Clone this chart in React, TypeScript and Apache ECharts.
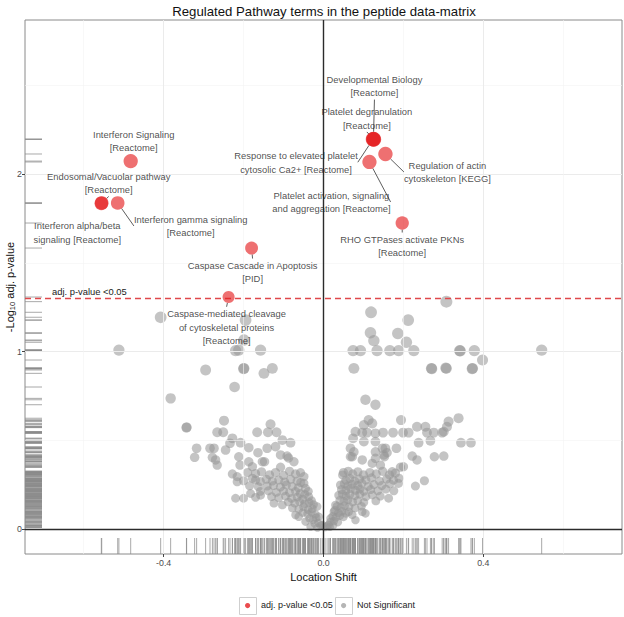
import React, { useEffect, useRef } from "react";
import * as echarts from "echarts";

const TITLE = "Regulated Pathway terms in the peptide data-matrix";
const X_NAME = "Location Shift";
const Y_NAME = "{a|-Log}{s|10}{a| adj. p-value}";
const X_TICKS = [-0.4, 0, 0.4];
const Y_TICKS = [0, 1, 2];
const X_MINOR = [-0.6, -0.2, 0.2, 0.6];
const Y_MINOR = [0.5, 1.5, 2.5];
const THRESHOLD = 1.30103;
const THRESHOLD_LABEL = "adj. p-value <0.05";
const LEGEND_SIG = "adj. p-value <0.05";
const LEGEND_NS = "Not Significant";
const X_MIN = -0.747;
const X_MAX = 0.747;
const Y_MIN = -0.141;
const Y_MAX = 2.868;

// significant pathway terms
const sigLabels = [
  "Interferon Signaling\n[Reactome]",
  "Endosomal/Vacuolar pathway\n[Reactome]",
  "Interferon alpha/beta\nsignaling [Reactome]",
  "Interferon gamma signaling\n[Reactome]",
  "Caspase Cascade in Apoptosis\n[PID]",
  "Caspase-mediated cleavage\nof cytoskeletal proteins\n[Reactome]",
  "Developmental Biology\n[Reactome]",
  "Platelet degranulation\n[Reactome]",
  "Response to elevated platelet\ncytosolic Ca2+ [Reactome]",
  "Regulation of actin\ncytoskeleton [KEGG]",
  "Platelet activation, signaling\nand aggregation [Reactome]",
  "RHO GTPases activate PKNs\n[Reactome]",
];
const sigX = [-0.4825, -0.555, -0.556, -0.515, -0.18, -0.2375, 0.125, 0.126, 0.124, 0.155, 0.115, 0.197];
const sigY = [2.073, 1.837, 1.835, 1.837, 1.583, 1.307, 2.197, 2.195, 2.196, 2.113, 2.068, 1.724];

// label offsets in pixels (layout only) and whether a leader line is drawn
const LABEL_OFFSETS = [
  [3, -20], [7, -20], [-24, 29], [73, 23], [1, 24], [-2, 30],
  [1, -53], [-7, -21], [-77, 23], [62, 18], [-38, 40], [0, 23],
];
const LABEL_LINE = [true, true, false, true, true, true, true, true, true, true, true, true];

// not significant terms: [location shift, -log10 adj p]
const nsPoints = [
  [-0.4075, 1.193], [-0.195, 1.177], [-0.199, 1.065], [-0.512, 1.008], [-0.22, 1.005], [-0.212, 1.008],
  [-0.1575, 1.008], [-0.295, 0.896], [-0.199, 0.905], [-0.2, 0.903], [-0.149, 0.877], [-0.128, 0.905],
  [-0.2225, 0.8], [-0.3825, 0.736],
  [-0.3425, 0.573], [-0.343, 0.571], [-0.249, 0.61], [-0.266, 0.545], [-0.251, 0.545], [-0.1325, 0.59],
  [-0.166, 0.545], [-0.139, 0.545], [-0.1175, 0.545], [-0.228, 0.511], [-0.234, 0.483], [-0.2075, 0.486],
  [-0.187, 0.458], [-0.3175, 0.455], [-0.3225, 0.404], [-0.284, 0.455], [-0.274, 0.455], [-0.245, 0.445],
  [-0.164, 0.43], [-0.141, 0.455], [-0.12, 0.464], [-0.103, 0.501], [-0.0825, 0.486], [-0.1075, 0.417],
  [-0.091, 0.411], [-0.074, 0.379], [-0.278, 0.404], [-0.27, 0.389], [-0.266, 0.36], [-0.212, 0.407],
  [-0.209, 0.36], [-0.187, 0.379], [-0.178, 0.351], [-0.1475, 0.379], [-0.1075, 0.348], [-0.228, 0.31],
  [-0.216, 0.295], [-0.216, 0.266], [-0.178, 0.286], [-0.0575, 0.317], [-0.049, 0.295], [-0.049, 0.257],
  [-0.045, 0.229], [-0.22, 0.173], [-0.2, 0.173], [-0.124, 0.145], [-0.153, 0.379], [-0.0875, 0.4],
  [-0.1825, 0.2], [-0.1575, 0.19], [-0.141, 0.242],
  [-0.19, 0.318], [-0.17, 0.312], [-0.155, 0.322], [-0.135, 0.305], [-0.12, 0.318], [-0.1, 0.302],
  [-0.085, 0.325], [-0.07, 0.31],
  [-0.2, 0.272], [-0.17, 0.276], [-0.158, 0.268], [-0.143, 0.28], [-0.128, 0.27], [-0.112, 0.276],
  [-0.097, 0.265], [-0.082, 0.28], [-0.066, 0.27], [-0.057, 0.262],
  [-0.185, 0.243], [-0.163, 0.238], [-0.125, 0.245], [-0.108, 0.236], [-0.093, 0.248], [-0.078, 0.24],
  [-0.063, 0.232], [-0.038, 0.212],
  [-0.158, 0.212], [-0.138, 0.215], [-0.118, 0.206], [-0.1, 0.214], [-0.085, 0.205], [-0.07, 0.212],
  [-0.058, 0.2], [-0.047, 0.195],
  [-0.17, 0.178], [-0.13, 0.182], [-0.112, 0.176], [-0.095, 0.185], [-0.08, 0.172], [-0.066, 0.18],
  [-0.052, 0.168], [-0.037, 0.182], [-0.03, 0.16],
  [-0.103, 0.135], [-0.088, 0.152], [-0.072, 0.145], [-0.06, 0.155], [-0.047, 0.142], [-0.036, 0.15],
  [-0.025, 0.138],
  [-0.078, 0.118], [-0.062, 0.112], [-0.05, 0.125], [-0.038, 0.108], [-0.016, 0.126], [-0.028, 0.115],
  [-0.07, 0.079], [-0.062, 0.069], [-0.052, 0.092], [-0.04, 0.085], [-0.03, 0.095], [-0.02, 0.082],
  [-0.045, 0.041], [-0.035, 0.06], [-0.026, 0.052], [-0.018, 0.064], [-0.012, 0.069],
  [-0.0325, 0.013], [-0.022, 0.03], [-0.013, 0.035], [-0.007, 0.02], [-0.003, 0.023], [-0.015, 0.008],
  [0.3075, 1.281], [0.119, 1.221], [0.212, 1.177], [0.1175, 1.106], [0.186, 1.102], [0.126, 1.061],
  [0.2075, 1.052], [0.074, 1.005], [0.0925, 1.005], [0.134, 1.005], [0.166, 1.005], [0.188, 1.005],
  [0.226, 1.005], [0.341, 1.005], [0.342, 1.003], [0.3775, 1.005], [0.398, 0.952], [0.546, 1.008],
  [0.076, 0.905], [0.27, 0.905], [0.271, 0.903], [0.3075, 0.905], [0.306, 0.907], [0.373, 0.905],
  [0.372, 0.903], [0.105, 0.728], [0.13, 0.7],
  [0.194, 0.614], [0.338, 0.624], [0.313, 0.605], [0.309, 0.576], [0.301, 0.548], [0.113, 0.614],
  [0.101, 0.586], [0.122, 0.595], [0.08, 0.548], [0.097, 0.543], [0.109, 0.543], [0.13, 0.539],
  [0.149, 0.543], [0.174, 0.543], [0.199, 0.543], [0.213, 0.543], [0.234, 0.576], [0.255, 0.576],
  [0.259, 0.543], [0.276, 0.543], [0.297, 0.543], [0.074, 0.511], [0.101, 0.492], [0.13, 0.492],
  [0.238, 0.486], [0.2675, 0.497], [0.344, 0.486], [0.369, 0.486], [0.0675, 0.455], [0.076, 0.435],
  [0.072, 0.407], [0.13, 0.435], [0.155, 0.455], [0.159, 0.43], [0.1825, 0.455], [0.222, 0.411],
  [0.234, 0.389], [0.2775, 0.407], [0.301, 0.411], [0.097, 0.389], [0.122, 0.37], [0.1425, 0.36],
  [0.1925, 0.348], [0.172, 0.323], [0.189, 0.286], [0.1875, 0.257], [0.23, 0.242], [0.2525, 0.272],
  [0.163, 0.173], [0.0675, 0.407], [0.13, 0.398], [0.151, 0.417], [0.1475, 0.455], [0.1525, 0.407],
  [0.2, 0.351],
  [0.05, 0.318], [0.062, 0.325], [0.073, 0.31], [0.086, 0.322], [0.1, 0.305], [0.116, 0.318],
  [0.132, 0.31], [0.148, 0.325], [0.165, 0.305], [0.18, 0.315],
  [0.048, 0.304], [0.056, 0.275], [0.066, 0.285], [0.078, 0.27], [0.09, 0.282], [0.106, 0.276],
  [0.12, 0.288], [0.14, 0.27], [0.158, 0.282], [0.175, 0.275],
  [0.0425, 0.248], [0.052, 0.255], [0.061, 0.242], [0.072, 0.252], [0.086, 0.245], [0.096, 0.258],
  [0.112, 0.24], [0.126, 0.25], [0.146, 0.245], [0.166, 0.255],
  [0.045, 0.222], [0.056, 0.215], [0.068, 0.228], [0.08, 0.218], [0.091, 0.225], [0.101, 0.212],
  [0.118, 0.222], [0.136, 0.215], [0.156, 0.225], [0.176, 0.215],
  [0.038, 0.19], [0.047, 0.198], [0.057, 0.185], [0.066, 0.195], [0.079, 0.188], [0.091, 0.196],
  [0.106, 0.182], [0.122, 0.192], [0.142, 0.185],
  [0.03, 0.135], [0.041, 0.162], [0.051, 0.155], [0.061, 0.165], [0.073, 0.152], [0.086, 0.16],
  [0.101, 0.15], [0.131, 0.158],
  [0.026, 0.097], [0.034, 0.128], [0.043, 0.12], [0.053, 0.132], [0.064, 0.125], [0.079, 0.118],
  [0.095, 0.128],
  [0.028, 0.105], [0.037, 0.09], [0.046, 0.1], [0.056, 0.088], [0.063, 0.097], [0.097, 0.097],
  [0.105, 0.088], [0.072, 0.08],
  [0.0175, 0.06], [0.023, 0.072], [0.031, 0.065], [0.041, 0.075], [0.05, 0.068], [0.08, 0.05],
  [0.013, 0.023], [0.017, 0.04], [0.026, 0.045], [0.036, 0.038],
  [0.004, 0.01], [0.009, 0.018], [0.016, 0.012], [0.024, 0.02],
];

const FONT = "'Liberation Sans', Arial, Helvetica, sans-serif";
const RED = "rgba(228,26,28,0.78)";
const GRAY = "rgba(150,150,150,0.7)";

export default function App() {
  const ref = useRef<HTMLDivElement>(null);

  useEffect(() => {
    if (!ref.current) return;
    const chart = echarts.init(ref.current, undefined, { renderer: "svg" });

    const sigData = sigX.map((x, i) => ({
      value: [x, sigY[i]],
      name: sigLabels[i],
      labelLine: { show: LABEL_LINE[i] },
    }));
    const allPoints = nsPoints.concat(sigX.map((x, i) => [x, sigY[i]]));
    const sizeFn = (v: number[]) => 8.3 + 2.9 * v[1];

    const majorStyle = { color: "#ebebeb", width: 1, type: "solid" };
    const minorStyle = { color: "#f3f3f3", width: 0.6, type: "solid" };
    const gridLines = [
      ...Y_TICKS.map((v) => ({ yAxis: v, lineStyle: majorStyle })),
      ...Y_MINOR.map((v) => ({ yAxis: v, lineStyle: minorStyle })),
      ...X_TICKS.map((v) => ({ xAxis: v, lineStyle: majorStyle })),
      ...X_MINOR.map((v) => ({ xAxis: v, lineStyle: minorStyle })),
    ];

    const option: any = {
      animation: false,
      backgroundColor: "#ffffff",
      textStyle: { fontFamily: FONT },
      title: {
        text: TITLE,
        left: 319,
        textAlign: "center",
        top: 0,
        textStyle: { fontSize: 13.2, fontWeight: "normal", color: "#111", fontFamily: FONT },
      },
      grid: {
        left: 25,
        right: 2,
        top: 20,
        bottom: 63,
        containLabel: false,
        outerBoundsMode: "none",
        show: true,
        borderColor: "#8a8a8a",
        borderWidth: 1,
        backgroundColor: "#ffffff",
      },
      xAxis: {
        type: "value",
        min: X_MIN,
        max: X_MAX,
        name: X_NAME,
        nameLocation: "middle",
        nameGap: 17,
        nameMoveOverlap: false,
        nameTextStyle: { fontSize: 11, color: "#111", fontFamily: FONT },
        axisLine: { show: false, onZero: false },
        splitLine: { show: false },
        axisTick: { show: true, length: 3, customValues: X_TICKS, lineStyle: { color: "#444" } },
        axisLabel: {
          customValues: X_TICKS,
          formatter: (v: number) => v.toFixed(1),
          fontSize: 8.8,
          color: "#4d4d4d",
          margin: 4,
          fontFamily: FONT,
        },
      },
      yAxis: {
        type: "value",
        min: Y_MIN,
        max: Y_MAX,
        name: Y_NAME,
        nameLocation: "middle",
        nameGap: 9,
        nameMoveOverlap: false,
        nameTextStyle: {
          color: "#111",
          fontFamily: FONT,
          rich: {
            a: { fontSize: 11, color: "#111", fontFamily: FONT },
            s: { fontSize: 7.5, color: "#111", fontFamily: FONT, padding: [5, 0, 0, 0] },
          },
        },
        axisLine: { show: false, onZero: false },
        splitLine: { show: false },
        axisTick: { show: true, length: 3, customValues: Y_TICKS, lineStyle: { color: "#444" } },
        axisLabel: {
          customValues: Y_TICKS,
          formatter: (v: number) => String(Math.round(v)),
          fontSize: 8.8,
          color: "#4d4d4d",
          margin: 3,
          fontFamily: FONT,
        },
      },
      graphic: [
        { type: "rect", left: 239, top: 597, shape: { width: 17, height: 17 }, style: { fill: "#fff", stroke: "#cfcfcf", lineWidth: 1 } },
        { type: "circle", left: 245, top: 603, shape: { r: 2.6 }, style: { fill: RED } },
        { type: "text", left: 261, top: 600, style: { text: LEGEND_SIG, fontSize: 9, fill: "#222", fontFamily: FONT } },
        { type: "rect", left: 335, top: 597, shape: { width: 17, height: 17 }, style: { fill: "#fff", stroke: "#cfcfcf", lineWidth: 1 } },
        { type: "circle", left: 341, top: 603, shape: { r: 2.6 }, style: { fill: GRAY } },
        { type: "text", left: 357, top: 600, style: { text: LEGEND_NS, fontSize: 9, fill: "#222", fontFamily: FONT } },
      ],
      series: [
        {
          type: "scatter",
          data: [],
          z: 1,
          silent: true,
          markLine: {
            silent: true,
            symbol: "none",
            label: { show: false },
            data: gridLines,
          },
        },
        {
          type: "scatter",
          name: LEGEND_NS,
          data: nsPoints,
          z: 2,
          symbolSize: sizeFn,
          itemStyle: { color: GRAY },
        },
        {
          type: "scatter",
          data: [],
          z: 3,
          silent: true,
          markLine: {
            silent: true,
            symbol: "none",
            data: [
              { yAxis: 0, lineStyle: { color: "#2b2b2b", width: 1.4, type: "solid" }, label: { show: false } },
              { xAxis: 0, lineStyle: { color: "#2b2b2b", width: 1.4, type: "solid" }, label: { show: false } },
              {
                yAxis: THRESHOLD,
                lineStyle: { color: "#e0484b", width: 1.4, type: [6, 4] },
                label: {
                  show: true,
                  formatter: THRESHOLD_LABEL,
                  position: "insideStartTop",
                  distance: [27, 2],
                  fontSize: 9.4,
                  color: "#222",
                  fontFamily: FONT,
                },
              },
            ],
          },
        },
        {
          type: "custom",
          z: 4,
          silent: true,
          data: allPoints,
          encode: { x: 0, y: 1 },
          renderItem: (params: any, api: any) => {
            const p = api.coord([X_MIN, api.value(1)]);
            return {
              type: "line",
              shape: { x1: p[0], y1: p[1], x2: p[0] + 17, y2: p[1] },
              style: { stroke: "rgba(140,140,140,0.75)", lineWidth: 1 },
            };
          },
        },
        {
          type: "custom",
          z: 4,
          silent: true,
          data: allPoints,
          encode: { x: 0, y: 1 },
          renderItem: (params: any, api: any) => {
            const p = api.coord([api.value(0), Y_MIN]);
            return {
              type: "line",
              shape: { x1: p[0], y1: p[1], x2: p[0], y2: p[1] - 16 },
              style: { stroke: "rgba(140,140,140,0.75)", lineWidth: 1 },
            };
          },
        },
        {
          type: "scatter",
          name: LEGEND_SIG,
          data: sigData,
          z: 5,
          symbolSize: sizeFn,
          itemStyle: { color: RED },
          label: {
            show: true,
            position: "inside",
            formatter: "{b}",
            fontSize: 9.4,
            lineHeight: 13.5,
            color: "#222",
            fontFamily: FONT,
            align: "center",
            verticalAlign: "middle",
          },
          labelLine: { show: true, lineStyle: { color: "#333", width: 0.8 } },
          labelLayout: (p: any) => ({
            dx: LABEL_OFFSETS[p.dataIndex][0],
            dy: LABEL_OFFSETS[p.dataIndex][1],
          }),
        },
      ],
    };

    chart.setOption(option);
    return () => chart.dispose();
  }, []);

  return <div ref={ref} style={{ width: 624, height: 617, position: "absolute", left: 0, top: 0 }} />;
}
